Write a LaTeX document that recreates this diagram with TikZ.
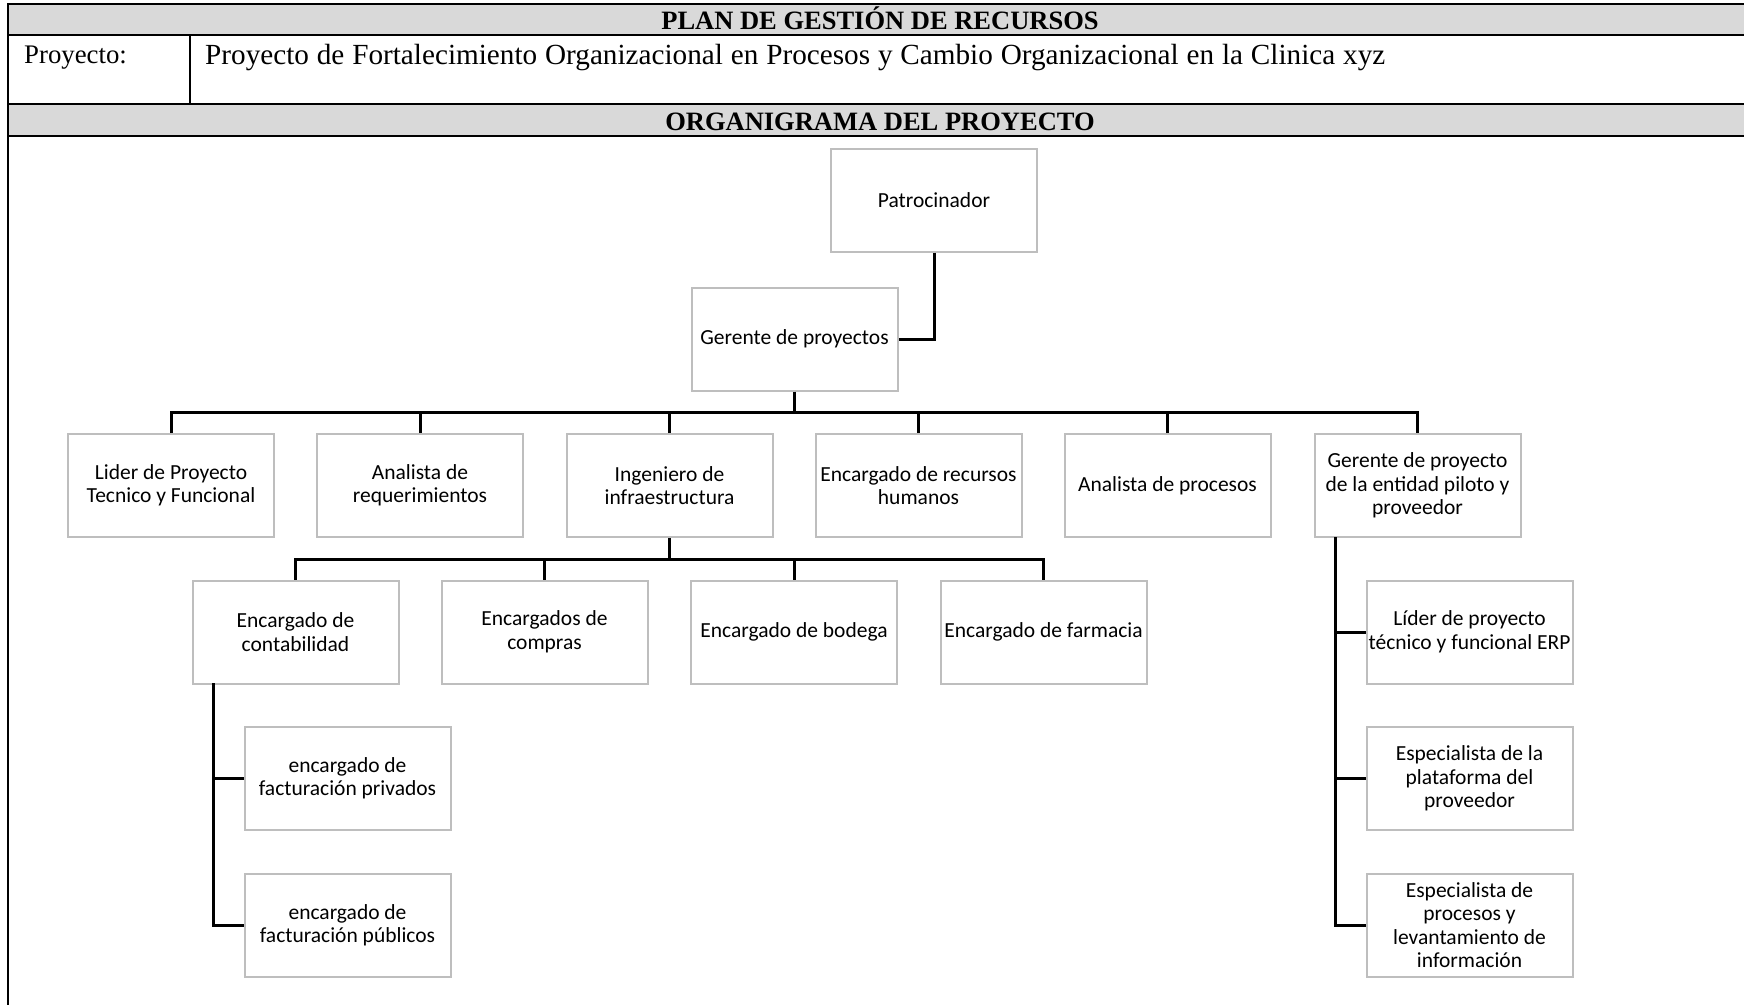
\documentclass[tikz,border=0pt]{standalone}
\usepackage{fontspec}
\setmainfont{Liberation Serif}
\newfontfamily\boxfont{Carlito}
\definecolor{headgray}{RGB}{217,217,217}
\definecolor{boxline}{RGB}{190,190,190}
\begin{document}
\begin{tikzpicture}[x=1pt,y=-1pt,
  role/.style={draw=boxline, line width=2pt, fill=white,
    minimum width=206pt, minimum height=103pt, align=center, inner sep=2pt,
    font=\boxfont\fontsize{21.5}{23.5}\selectfont},
  link/.style={line width=3pt, black},
  rule/.style={line width=2pt, black},
  headtext/.style={font=\fontsize{26.5}{30}\selectfont\bfseries, anchor=base, inner sep=0pt},
  celltext/.style={font=\fontsize{28}{32}\selectfont, anchor=base west, inner sep=0pt}
]
\useasboundingbox (0,0) rectangle (1744,1005);

% table header
\fill[headgray] (8,4) rectangle (1744,35);
\fill[headgray] (8,104) rectangle (1744,136);
\draw[rule] (8,4) -- (1744,4);
\draw[rule] (8,35) -- (1744,35);
\draw[rule] (8,104) -- (1744,104);
\draw[rule] (8,136) -- (1744,136);
\draw[rule] (8,3) -- (8,1005);
\draw[rule] (190,35) -- (190,104);

\node[headtext] (title) at (880,29) {PLAN DE GESTIÓN DE RECURSOS};
\node[celltext, font=\fontsize{26.8}{32}\selectfont] (plabel) at (24,63) {Proyecto:};
\node[celltext, font=\fontsize{29.2}{32}\selectfont] (pname) at (205,64) {\makebox[1180pt][s]{Proyecto de Fortalecimiento Organizacional en Procesos y Cambio Organizacional en la Clinica xyz}};
\node[headtext] (orgtitle) at (880,130) {ORGANIGRAMA DEL PROYECTO};

% top of the chart
\node[role] (pat) at (934,200) {Patrocinador};
\node[role] (ger) at (794.5,339) {Gerente de proyectos};

% second level
\node[role] (lid) at (171,485.5) {Lider de Proyecto\\Tecnico y Funcional};
\node[role] (req) at (420,485.5) {Analista de\\requerimientos};
\node[role] (ing) at (669.5,485.5) {Ingeniero de\\infraestructura};
\node[role] (rrhh) at (918.5,485.5) {Encargado de recursos\\humanos};
\node[role] (proc) at (1167.5,485.5) {Analista de procesos};
\node[role] (gep) at (1417.5,485.5) {Gerente de proyecto\\de la entidad piloto y\\proveedor};

% third level
\node[role] (cont) at (295.5,632) {Encargado de\\contabilidad};
\node[role] (comp) at (544.5,632) {Encargados de\\compras};
\node[role] (bod) at (794,632) {Encargado de bodega};
\node[role] (farm) at (1043.5,632) {Encargado de farmacia};

% under accounting
\node[role] (fpriv) at (347.5,778.5) {encargado de\\facturación privados};
\node[role] (fpub) at (347.5,925) {encargado de\\facturación públicos};

% under the pilot entity manager
\node[role] (erp) at (1469.5,632) {Líder de proyecto\\técnico y funcional ERP};
\node[role] (plat) at (1469.5,778.5) {Especialista de la\\plataforma del\\proveedor};
\node[role] (espp) at (1469.5,925) {Especialista de\\procesos y\\levantamiento de\\información};

% connectors
\coordinate (busA) at (794.5,412);
\coordinate (busB) at (669.5,559);
\coordinate (railL) at (213,683);
\coordinate (railR) at (1335,537);

\draw[link] (pat.south) |- (ger.east);

\draw[link] (ger.south) -- (busA);
\draw[link] (lid.north) -- (lid.north |- busA) -- (gep.north |- busA) -- (gep.north);
\foreach \n in {req,ing,rrhh,proc}
  \draw[link] (\n.north) -- (\n.north |- busA);

\draw[link] (ing.south) -- (busB);
\draw[link] (cont.north) -- (cont.north |- busB) -- (farm.north |- busB) -- (farm.north);
\foreach \n in {comp,bod}
  \draw[link] (\n.north) -- (\n.north |- busB);

\draw[link] (railL) |- (fpub.west);
\draw[link] (railL |- fpriv.west) -- (fpriv.west);

\draw[link] (railR) |- (espp.west);
\draw[link] (railR |- erp.west) -- (erp.west);
\draw[link] (railR |- plat.west) -- (plat.west);
\end{tikzpicture}
\end{document}
